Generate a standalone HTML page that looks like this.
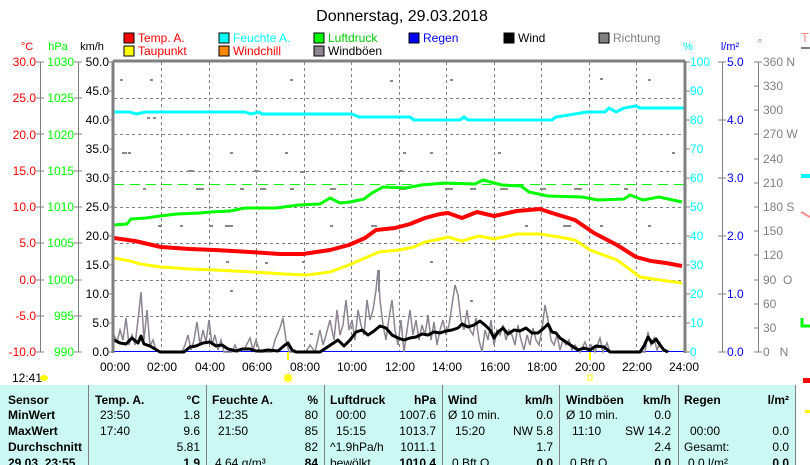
<!DOCTYPE html>
<html><head><meta charset="utf-8"><style>
html,body{margin:0;padding:0;background:#fff;}
svg{display:block;font-family:"Liberation Sans",Arial,sans-serif;}
</style></head><body>
<svg width="810" height="465" viewBox="0 0 810 465" xmlns="http://www.w3.org/2000/svg">
<rect width="810" height="465" fill="#fff"/>
<text x="402" y="21" font-size="16" text-anchor="middle" fill="#000">Donnerstag, 29.03.2018</text>
<!-- legend -->
<g font-size="12">
<rect x="124" y="33" width="10" height="10" fill="#f00" stroke="#000"/><text x="138" y="42" fill="#f00">Temp. A.</text>
<rect x="219" y="33" width="10" height="10" fill="#0ff" stroke="#000"/><text x="233" y="42" fill="#0ff">Feuchte A.</text>
<rect x="314" y="33" width="10" height="10" fill="#0f0" stroke="#000"/><text x="328" y="42" fill="#0c0">Luftdruck</text>
<rect x="409" y="33" width="10" height="10" fill="#00f" stroke="#000"/><text x="423" y="42" fill="#00f">Regen</text>
<rect x="504" y="33" width="10" height="10" fill="#000" stroke="#000"/><text x="518" y="42" fill="#000">Wind</text>
<rect x="599" y="33" width="10" height="10" fill="#808080" stroke="#000"/><text x="613" y="42" fill="#808080">Richtung</text>
<rect x="124" y="46" width="10" height="10" fill="#ff0" stroke="#000"/><text x="138" y="55" fill="#f00">Taupunkt</text>
<rect x="219" y="46" width="10" height="10" fill="#f80" stroke="#000"/><text x="233" y="55" fill="#f00">Windchill</text>
<rect x="314" y="46" width="10" height="10" fill="#8c8490" stroke="#000"/><text x="328" y="55" fill="#000">Windböen</text>
</g>
<!-- axis headers -->
<g font-size="11">
<text x="27" y="50" fill="#f00" text-anchor="middle">°C</text>
<text x="58" y="50" fill="#0f0" text-anchor="middle">hPa</text>
<text x="92" y="50" fill="#000" text-anchor="middle">km/h</text>
<text x="688" y="50" fill="#0ff" text-anchor="middle">%</text>
<text x="730" y="50" fill="#00f" text-anchor="middle">l/m²</text>
<text x="760" y="47" fill="#808080" text-anchor="middle">°</text>
<text x="801" y="42" fill="#f88" font-size="13">T</text>
</g>
<!-- left axes -->
<g stroke="#808080" stroke-width="1">
<line x1="40.5" y1="62" x2="40.5" y2="352"/>
<line x1="78.5" y1="62" x2="78.5" y2="352"/>
<line x1="722.5" y1="62" x2="722.5" y2="352"/>
<line x1="758.5" y1="62" x2="758.5" y2="352"/>
<line x1="801" y1="48" x2="810" y2="48" stroke-width="2"/>
</g>
<g font-size="12" text-anchor="end" fill="#f00">
<text x="36" y="66">30.0</text><text x="36" y="102">25.0</text><text x="36" y="139">20.0</text><text x="36" y="175">15.0</text><text x="36" y="211">10.0</text><text x="36" y="247">5.0</text><text x="36" y="284">0.0</text><text x="36" y="320">-5.0</text><text x="36" y="356">-10.0</text>
</g>
<g font-size="12" text-anchor="end" fill="#0f0">
<text x="74" y="66">1030</text><text x="74" y="102">1025</text><text x="74" y="139">1020</text><text x="74" y="175">1015</text><text x="74" y="211">1010</text><text x="74" y="247">1005</text><text x="74" y="284">1000</text><text x="74" y="320">995</text><text x="74" y="356">990</text>
</g>
<g font-size="12" text-anchor="end" fill="#000">
<text x="109" y="66">50.0</text><text x="109" y="95">45.0</text><text x="109" y="124">40.0</text><text x="109" y="153">35.0</text><text x="109" y="182">30.0</text><text x="109" y="211">25.0</text><text x="109" y="240">20.0</text><text x="109" y="269">15.0</text><text x="109" y="298">10.0</text><text x="109" y="327">5.0</text><text x="109" y="356">0.0</text>
</g>
<g stroke="#808080">
<path d="M36 62h8M36 98h8M36 134h8M36 171h8M36 207h8M36 243h8M36 280h8M36 316h8M36 352h8"/>
<path d="M74 62h8M74 98h8M74 134h8M74 171h8M74 207h8M74 243h8M74 280h8M74 316h8M74 352h8"/>
<path d="M718 62h8M718 120h8M718 178h8M718 236h8M718 294h8M718 352h8"/>
<path d="M754 62h8M754 86h4M754 110h4M754 134h4M754 159h4M754 183h4M754 207h4M754 231h4M754 255h4M754 280h4M754 304h4M754 328h4M754 352h8"/>
<path d="M686 62h4M686 91h4M686 120h4M686 149h4M686 178h4M686 207h4M686 236h4M686 265h4M686 294h4M686 323h4M686 352h4"/>
</g>
<g font-size="12" fill="#0ff">
<text x="690" y="66">100</text><text x="690" y="95">90</text><text x="690" y="124">80</text><text x="690" y="153">70</text><text x="690" y="182">60</text><text x="690" y="211">50</text><text x="690" y="240">40</text><text x="690" y="269">30</text><text x="690" y="298">20</text><text x="690" y="327">10</text><text x="690" y="356">0</text>
</g>
<g font-size="12" fill="#00f">
<text x="727" y="66">5.0</text><text x="727" y="124">4.0</text><text x="727" y="182">3.0</text><text x="727" y="240">2.0</text><text x="727" y="298">1.0</text><text x="727" y="356">0.0</text>
</g>
<g font-size="12" fill="#808080">
<text x="763" y="66">360 N</text><text x="763" y="90">330</text><text x="763" y="114">300</text><text x="763" y="138">270 W</text><text x="763" y="163">240</text><text x="763" y="187">210</text><text x="763" y="211">180 S</text><text x="763" y="235">150</text><text x="763" y="259">120</text><text x="763" y="284">90&#160;&#160;O</text><text x="763" y="308">60</text><text x="763" y="332">30</text><text x="763" y="356">0&#160;&#160;&#160;N</text>
</g>
<!-- grid -->
<g stroke="#808080" stroke-dasharray="3,3" stroke-width="1">
<path d="M161.5 62V352M209.5 62V352M256.5 62V352M304.5 62V352M351.5 62V352M399.5 62V352M446.5 62V352M494.5 62V352M541.5 62V352M589.5 62V352M636.5 62V352"/>
<path d="M114 98.5H684M114 134.5H684M114 171.5H684M114 207.5H684M114 243.5H684M114 280.5H684M114 316.5H684"/>
</g>
<!-- direction dots -->
<g fill="#888">
<rect x="120" y="79" width="3" height="2"/><rect x="150" y="79" width="3" height="2"/><rect x="290" y="79" width="3" height="2"/><rect x="390" y="80" width="3" height="2"/><rect x="450" y="79" width="3" height="2"/><rect x="600" y="78" width="3" height="2"/><rect x="648" y="79" width="3" height="2"/>
<rect x="147" y="117" width="3" height="2"/><rect x="153" y="117" width="3" height="2"/><rect x="122" y="152" width="5" height="2"/><rect x="128" y="152" width="3" height="2"/><rect x="230" y="152" width="3" height="2"/><rect x="285" y="152" width="3" height="2"/><rect x="403" y="152" width="3" height="2"/><rect x="430" y="152" width="3" height="2"/><rect x="498" y="152" width="3" height="2"/><rect x="672" y="152" width="3" height="2"/>
<rect x="188" y="170" width="6" height="2"/><rect x="254" y="170" width="5" height="2"/><rect x="300" y="171" width="4" height="2"/><rect x="400" y="170" width="3" height="2"/>
<rect x="143" y="188" width="3" height="2"/><rect x="196" y="188" width="8" height="2"/><rect x="240" y="188" width="4" height="2"/><rect x="260" y="188" width="6" height="2"/><rect x="290" y="188" width="4" height="2"/><rect x="330" y="188" width="6" height="2"/><rect x="400" y="188" width="6" height="2"/><rect x="445" y="188" width="8" height="2"/><rect x="470" y="188" width="6" height="2"/><rect x="500" y="188" width="8" height="2"/><rect x="540" y="188" width="6" height="2"/><rect x="574" y="188" width="8" height="2"/><rect x="624" y="188" width="4" height="2"/>
<rect x="158" y="225" width="3" height="2"/><rect x="180" y="225" width="3" height="2"/><rect x="210" y="225" width="3" height="2"/><rect x="225" y="225" width="8" height="2"/><rect x="330" y="225" width="3" height="2"/><rect x="371" y="225" width="6" height="2"/><rect x="525" y="225" width="3" height="2"/><rect x="563" y="225" width="8" height="2"/><rect x="600" y="225" width="3" height="2"/><rect x="648" y="225" width="3" height="2"/>
<rect x="226" y="261" width="3" height="2"/><rect x="430" y="261" width="3" height="2"/><rect x="265" y="262" width="3" height="2"/><rect x="302" y="261" width="3" height="2"/><rect x="230" y="290" width="3" height="2"/><rect x="470" y="300" width="3" height="2"/><rect x="310" y="333" width="3" height="2"/>
</g>
<!-- rain baseline -->
<line x1="114" y1="351.5" x2="684" y2="351.5" stroke="#00f" stroke-width="1"/>
<!-- green dashed -->
<line x1="114" y1="184.5" x2="684" y2="184.5" stroke="#0f0" stroke-dasharray="10,6"/>
<!-- gusts -->
<polyline fill="none" stroke="#8c8490" stroke-width="1.5" points="114,335 117,342 120,330 123,340 126,318 129,345 132,335 135,345 138,320 141,292 144,340 147,310 150,346 153,340 156,350 160,352 182,352 185,345 188,335 191,350 194,340 197,322 200,345 203,330 206,342 209,320 212,345 215,335 218,350 221,340 224,352 232,352 235,345 238,352 245,348 250,338 253,350 256,340 260,352 272,352 275,340 280,328 283,318 286,340 289,352 306,352 310,345 315,352 320,330 323,345 326,335 330,320 334,340 337,310 340,335 343,325 346,300 349,330 352,320 355,340 358,310 361,325 364,335 367,300 370,320 373,310 376,290 378,270 380,300 383,325 386,340 389,318 392,300 395,330 398,345 401,320 404,352 407,330 410,310 413,335 416,320 419,340 422,325 425,335 428,315 431,340 434,322 437,345 440,330 443,320 446,335 449,325 452,305 455,285 458,295 461,320 464,330 467,310 470,330 473,335 476,318 479,340 482,352 485,330 488,340 491,320 494,345 497,330 500,335 503,325 506,340 509,330 512,335 515,345 518,325 521,340 524,350 527,335 530,345 533,328 536,340 539,345 542,330 545,305 548,320 551,340 554,345 557,335 560,350 563,340 566,345 569,340 572,350 575,345 580,352 585,342 588,350 591,345 595,352 600,338 603,352 607,343 610,352 645,352 648,332 651,345 654,338 657,350 660,343 663,352"/>
<line x1="379" y1="270" x2="379" y2="292" stroke="#8c8490" stroke-width="2"/>
<!-- wind -->
<polyline fill="none" stroke="#000" stroke-width="3" stroke-linejoin="round" points="114,340 120,343 126,344 132,338 138,343 141,336 144,344 150,346 155,349 160,352 184,352 190,347 196,346 203,343 210,342 216,346 222,345 228,349 236,351 242,349 250,349 256,351 262,351 268,350 278,351 285,345 288,343 292,350 296,352 320,352 326,348 332,344 338,340 344,346 350,340 356,332 362,330 368,335 374,331 380,326 386,328 392,335 398,338 404,340 410,338 416,337 422,334 428,335 434,332 440,333 446,331 452,330 458,328 462,324 468,327 474,325 480,321 486,326 490,330 494,338 498,332 503,328 508,334 514,330 520,331 526,328 532,333 538,333 544,328 548,324 552,332 556,333 560,338 566,342 572,346 578,350 584,348 590,350 596,346 604,347 610,352 640,352 644,346 648,337 652,343 656,339 660,345 664,350 668,352"/>
<!-- yellow dewpoint -->
<polyline fill="none" stroke="#ff0" stroke-width="3" stroke-linejoin="round" points="114,258 130,261 140,264 161,267 190,269 215,270 253,272 284,274 307,275 330,272 349,265 365,258 379,252 399,250 414,247 425,242 440,239 448,237 462,241 479,236 494,239 517,234 540,234 559,237 575,240 590,250 617,260 640,277 660,280 682,283"/>
<!-- red temp -->
<polyline fill="none" stroke="#f00" stroke-width="4" stroke-linejoin="round" points="114,238 135,241 161,247 190,249 215,250 250,252 280,254 303,254 330,250 349,245 365,238 376,230 395,228 410,224 425,218 440,214 448,213 462,218 477,212 494,216 517,211 540,209 552,213 575,220 594,233 617,245 636,257 651,261 666,263 682,266"/>
<!-- green pressure -->
<polyline fill="none" stroke="#0f0" stroke-width="3" stroke-linejoin="round" points="114,225 127,224 131,219 146,218 160,216 177,214 200,213 210,212 230,211 245,208 276,208 299,205 320,204 330,198 340,203 350,202 364,199 372,193 383,187 406,188 421,185 444,183 475,184 483,180 502,185 521,186 529,192 548,196 582,197 598,200 624,199 630,195 643,200 659,197 682,202"/>
<!-- cyan humidity -->
<polyline fill="none" stroke="#0ff" stroke-width="3" stroke-linejoin="round" points="114,112 130,112 136,114 146,112 245,112 251,114 259,112 262,114 352,114 359,117 410,117 414,120 460,120 464,117 468,120 494,120 552,120 556,117 575,114 587,112 605,112 609,108 616,112 624,108 636,106 640,108 684,108"/>
<!-- plot frame -->
<g stroke="#808080" stroke-width="3" fill="none">
<line x1="113" y1="61" x2="685" y2="61"/>
<line x1="113" y1="61" x2="113" y2="353"/>
<line x1="685" y1="61" x2="685" y2="353"/>
</g>
<g stroke="#808080"><path d="M108 62h4M108 91h4M108 120h4M108 149h4M108 178h4M108 207h4M108 236h4M108 265h4M108 294h4M108 323h4M108 352h4"/></g>
<!-- sunrise/sunset -->
<line x1="288" y1="352" x2="288" y2="360" stroke="#ff0" stroke-width="2"/>
<line x1="590" y1="352" x2="590" y2="360" stroke="#ff0" stroke-width="2"/>
<!-- time labels -->
<g font-size="12" text-anchor="middle" fill="#000">
<text x="115" y="371">00:00</text><text x="162" y="371">02:00</text><text x="210" y="371">04:00</text><text x="257" y="371">06:00</text><text x="305" y="371">08:00</text><text x="352" y="371">10:00</text><text x="400" y="371">12:00</text><text x="447" y="371">14:00</text><text x="495" y="371">16:00</text><text x="542" y="371">18:00</text><text x="590" y="371">20:00</text><text x="637" y="371">22:00</text><text x="684" y="371">24:00</text>
</g>
<text x="12" y="382" font-size="12">12:41</text>
<ellipse cx="44" cy="378" rx="4" ry="3" fill="#ff0"/>
<circle cx="288" cy="378" r="3.5" fill="#ff0"/>
<g stroke="#ff0" stroke-width="1"><path d="M283 378h10M288 373v10M284.5 374.5l7 7M291.5 374.5l-7 7"/></g>
<rect x="588" y="375" width="4" height="5" fill="none" stroke="#ff0"/>
<!-- right partial -->
<rect x="801" y="174" width="9" height="4" fill="#0ff"/>
<path d="M801 212l9 5" stroke="#f88" stroke-width="2"/>
<path d="M802 318v8h8" stroke="#0f0" stroke-width="3" fill="none"/>
<rect x="803" y="378" width="7" height="5" fill="#f00"/>
<rect x="805" y="410" width="5" height="3" fill="#ff0"/>
<!-- table -->
<rect x="0" y="385" width="795" height="80" fill="#ccf8f4"/>
<g stroke="#808080"><path d="M88.5 385V465M206.5 385V465M324.5 385V465M442.5 385V465M559.5 385V465M678.5 385V465M795.5 385V465"/></g>
<g font-size="12" fill="#000">
<g font-weight="bold">
<text x="8" y="404">Sensor</text><text x="8" y="419">MinWert</text><text x="8" y="435">MaxWert</text><text x="8" y="451">Durchschnitt</text><text x="8" y="467">29.03. 23:55</text>
<text x="95" y="404">Temp. A.</text><text x="200" y="404" text-anchor="end">°C</text>
<text x="212" y="404">Feuchte A.</text><text x="318" y="404" text-anchor="end">%</text>
<text x="330" y="404">Luftdruck</text><text x="436" y="404" text-anchor="end">hPa</text>
<text x="448" y="404">Wind</text><text x="553" y="404" text-anchor="end">km/h</text>
<text x="566" y="404">Windböen</text><text x="671" y="404" text-anchor="end">km/h</text>
<text x="684" y="404">Regen</text><text x="789" y="404" text-anchor="end">l/m²</text>
<text x="200" y="467" text-anchor="end">1.9</text><text x="318" y="467" text-anchor="end">84</text><text x="436" y="467" text-anchor="end">1010.4</text><text x="553" y="467" text-anchor="end">0.0</text><text x="671" y="467" text-anchor="end">0.0</text><text x="789" y="467" text-anchor="end">0.0</text>
</g>
<text x="100" y="419">23:50</text><text x="200" y="419" text-anchor="end">1.8</text>
<text x="100" y="435">17:40</text><text x="200" y="435" text-anchor="end">9.6</text>
<text x="200" y="451" text-anchor="end">5.81</text>
<text x="218" y="419">12:35</text><text x="318" y="419" text-anchor="end">80</text>
<text x="218" y="435">21:50</text><text x="318" y="435" text-anchor="end">85</text>
<text x="318" y="451" text-anchor="end">82</text>
<text x="215" y="467">4.64 g/m³</text>
<text x="336" y="419">00:00</text><text x="436" y="419" text-anchor="end">1007.6</text>
<text x="336" y="435">15:15</text><text x="436" y="435" text-anchor="end">1013.7</text>
<text x="330" y="451">^1.9hPa/h</text><text x="436" y="451" text-anchor="end">1011.1</text>
<text x="330" y="467">bewölkt</text>
<text x="448" y="419">Ø 10 min.</text><text x="553" y="419" text-anchor="end">0.0</text>
<text x="455" y="435">15:20</text><text x="553" y="435" text-anchor="end">NW 5.8</text>
<text x="553" y="451" text-anchor="end">1.7</text>
<text x="452" y="467">0 Bft O</text>
<text x="566" y="419">Ø 10 min.</text><text x="671" y="419" text-anchor="end">0.0</text>
<text x="572" y="435">11:10</text><text x="671" y="435" text-anchor="end">SW 14.2</text>
<text x="671" y="451" text-anchor="end">2.4</text>
<text x="570" y="467">0 Bft O</text>
<text x="690" y="435">00:00</text><text x="789" y="435" text-anchor="end">0.0</text>
<text x="684" y="451">Gesamt:</text><text x="789" y="451" text-anchor="end">0.0</text>
<text x="688" y="467">0.0 l/m²</text>
</g>
</svg>
</body></html>
